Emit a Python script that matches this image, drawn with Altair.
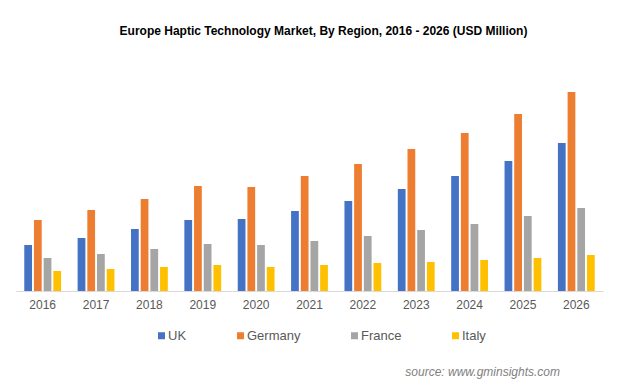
import altair as alt
import pandas as pd

years = ["2016", "2017", "2018", "2019", "2020", "2021", "2022", "2023", "2024", "2025", "2026"]
regions = ["UK", "Germany", "France", "Italy"]
colors = ["#4472C4", "#ED7D31", "#A5A5A5", "#FFC000"]

uk      = [46, 53, 62, 71, 72, 80, 90, 102, 115, 130, 148]
germany = [71, 81, 92, 105, 104, 115, 127, 142, 158, 177, 199]
france  = [33, 37, 42, 47, 46, 50, 55, 61, 67, 75, 83]
italy   = [20, 22, 24, 26, 24, 26, 28, 29, 31, 33, 36]

series = {"UK": uk, "Germany": germany, "France": france, "Italy": italy}
rows = []
for r in regions:
    for y, v in zip(years, series[r]):
        rows.append({"Year": y, "Region": r, "Value": v})
df = pd.DataFrame(rows)

FONT = "Liberation Sans, Arial, sans-serif"

bars = alt.Chart(df).mark_bar().encode(
    x=alt.X("Year:N", sort=years,
            scale=alt.Scale(paddingInner=0.31, paddingOuter=0.155),
            axis=alt.Axis(title=None, labelAngle=0, ticks=False, domainColor="#d9d9d9",
                          domainWidth=1, labelFontSize=12, labelColor="#595959",
                          labelFont=FONT, labelPadding=8, grid=False)),
    xOffset=alt.XOffset("Region:N", sort=regions,
                        scale=alt.Scale(paddingInner=0.2, paddingOuter=0)),
    y=alt.Y("Value:Q", scale=alt.Scale(domain=[0, 230], nice=False), axis=None),
    color=alt.Color("Region:N", sort=regions,
                    scale=alt.Scale(domain=regions, range=colors),
                    legend=alt.Legend(title=None, orient="none", direction="horizontal",
                                      legendX=139, legendY=268, symbolType="square",
                                      symbolSize=49, symbolStrokeWidth=0, labelOffset=0,
                                      columnPadding=47, labelFontSize=13,
                                      labelColor="#595959", labelFont=FONT)),
)

source = alt.Chart(pd.DataFrame({"t": ["source: www.gminsights.com"]})).mark_text(
    align="right", baseline="alphabetic", fontSize=12, fontStyle="italic",
    color="#7f7f7f", font=FONT
).encode(x=alt.value(544), y=alt.value(315), text="t:N")

chart = alt.layer(bars, source).properties(
    width=587, height=230,
    autosize=alt.AutoSizeParams(type="none"),
    padding={"left": 8, "top": 53, "right": 8, "bottom": 88},
    title=alt.TitleParams("Europe Haptic Technology Market, By Region,  2016 - 2026 (USD Million)",
                          anchor="middle", dx=14, fontSize=12, fontWeight="bold",
                          font=FONT, color="#000000", offset=23),
).configure_view(stroke=None)

chart.save("out.html", embed_options={"renderer": "svg", "actions": False})
